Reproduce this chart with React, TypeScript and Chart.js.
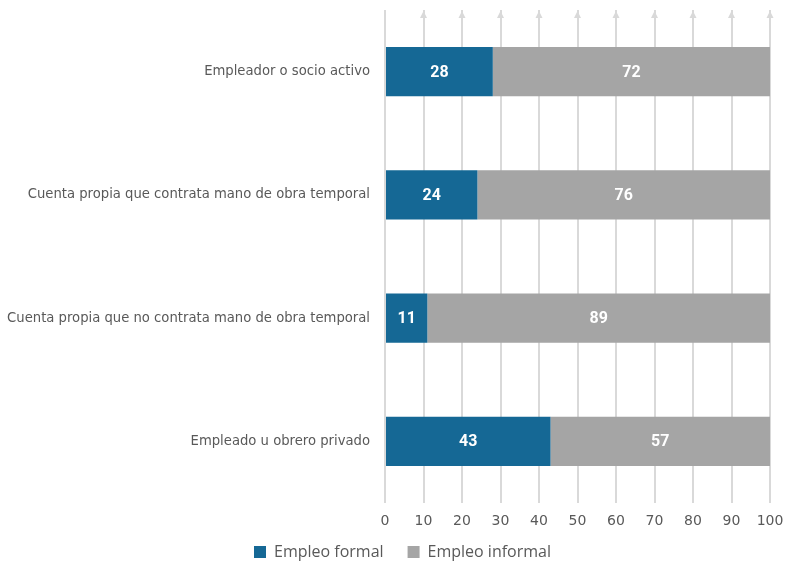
import React, { useEffect, useRef } from "react";
import { Chart, registerables } from "chart.js";

Chart.register(...registerables);

const categories = [
  "Empleador o socio activo",
  "Cuenta propia que contrata mano de obra temporal",
  "Cuenta propia que no contrata mano de obra temporal",
  "Empleado u obrero privado",
];
const formal = [28, 24, 11, 43];
const informal = [72, 76, 89, 57];
const seriesNames = ["Empleo formal", "Empleo informal"];
const xTicks = [0, 10, 20, 30, 40, 50, 60, 70, 80, 90, 100];

const arrowPlugin = {
  id: "arrowheads",
  beforeDatasetsDraw(chart: any) {
    const { ctx, chartArea, scales } = chart;
    const xs = scales.x;
    ctx.save();
    ctx.fillStyle = "#D9D9D9";
    xTicks.forEach((v) => {
      if (v === 0) return;
      const px = xs.getPixelForValue(v);
      ctx.beginPath();
      ctx.moveTo(px, chartArea.top + 1);
      ctx.lineTo(px - 3.5, chartArea.top + 8);
      ctx.lineTo(px + 3.5, chartArea.top + 8);
      ctx.closePath();
      ctx.fill();
    });
    ctx.restore();
  },
};

const labelPlugin = {
  id: "segLabels",
  afterDatasetsDraw(chart: any) {
    const { ctx } = chart;
    ctx.save();
    ctx.fillStyle = "#FFFFFF";
    ctx.font = "bold 16px Roboto, 'Liberation Sans', sans-serif";
    ctx.textAlign = "center";
    ctx.textBaseline = "middle";
    chart.data.datasets.forEach((ds: any, di: number) => {
      const meta = chart.getDatasetMeta(di);
      meta.data.forEach((el: any, i: number) => {
        const cx = (el.x + el.base) / 2;
        ctx.fillText(String(ds.data[i]), cx, el.y + 1);
      });
    });
    ctx.restore();
  },
};

const layoutTweak = {
  id: "layoutTweak",
  afterLayout(chart: any) {
    const lg = chart.legend;
    if (lg) {
      lg.left += 20;
      lg.top += 8;
      lg.bottom += 8;
    }
    const xs = chart.scales.x;
    if (xs) {
      xs.bottom = xs.top + 32;
      xs.height = 32;
    }
  },
};

export default function App() {
  const ref = useRef<HTMLCanvasElement>(null);
  useEffect(() => {
    if (!ref.current) return;
    const chart = new Chart(ref.current, {
      type: "bar",
      data: {
        labels: categories,
        datasets: [
          {
            label: seriesNames[0],
            data: formal,
            backgroundColor: "#156895",
            barPercentage: 0.8,
            categoryPercentage: 0.5,
          },
          {
            label: seriesNames[1],
            data: informal,
            backgroundColor: "#A5A5A5",
            barPercentage: 0.8,
            categoryPercentage: 0.5,
          },
        ],
      },
      options: {
        indexAxis: "y",
        responsive: false,
        animation: false,
        layout: { padding: { top: 10, right: 0, left: 0, bottom: 0 } },
        scales: {
          x: {
            stacked: true,
            min: 0,
            max: 100,
            afterBuildTicks: (s: any) => {
              s.ticks = xTicks.map((v) => ({ value: v }));
            },
            afterFit: (s: any) => {
              s.height = 9;
              s.paddingLeft = 0;
              s.paddingRight = 15;
            },
            grid: { color: "#D9D9D9", lineWidth: 2, drawTicks: false },
            border: { display: false },
            ticks: {
              padding: 10,
              color: "#595959",
              font: { size: 14, family: "'DejaVu Sans', sans-serif" },
            },
          },
          y: {
            stacked: true,
            grid: { display: false, drawTicks: false },
            border: { display: false },
            afterFit: (s: any) => {
              s.width = 385;
              s.paddingTop = 0;
              s.paddingBottom = 0;
            },
            ticks: {
              padding: 15,
              color: "#595959",
              font: { size: 13.2, family: "'DejaVu Sans', sans-serif" },
            },
          },
        },
        plugins: {
          legend: {
            position: "bottom",
            labels: {
              boxWidth: 12,
              boxHeight: 12,
              padding: 24,
              color: "#595959",
              font: { size: 16, family: "'Open Sans', sans-serif" },
            },
          },
          tooltip: { enabled: false },
        },
      },
      plugins: [arrowPlugin, labelPlugin, layoutTweak],
    });
    return () => chart.destroy();
  }, []);
  return (
    <div style={{ position: "fixed", left: 0, top: 0, width: 785, height: 562, background: "#fff" }}>
      <canvas ref={ref} width={785} height={562} />
    </div>
  );
}
